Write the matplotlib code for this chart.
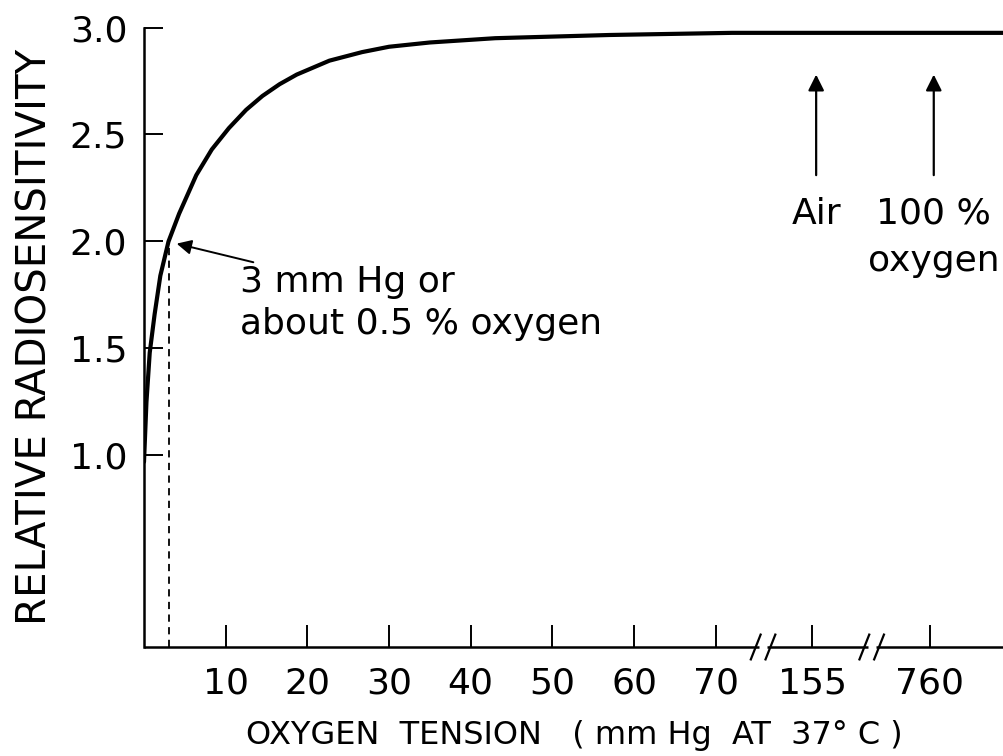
"""Oxygen effect curve: relative radiosensitivity vs oxygen tension."""

import matplotlib
matplotlib.use("Agg")
import matplotlib.pyplot as plt
import numpy as np

# Curve
tension = [0, 0.3, 0.7, 1.3, 2.0, 3.0, 4.3, 6.4, 8.3, 10.4, 12.5, 14.5, 16.6,
           18.7, 22.7, 26.7, 30, 35, 43, 57, 72, 155, 760, 1000]
sensitivity = [0.97, 1.25, 1.48, 1.66, 1.84, 2.0, 2.13, 2.31, 2.43, 2.53, 2.615,
               2.68, 2.735, 2.78, 2.845, 2.885, 2.91, 2.93, 2.95, 2.965, 2.975,
               2.975, 2.975, 2.975]

x_ticks = [10, 20, 30, 40, 50, 60, 70, 155, 760]
x_ticklabels = ["10", "20", "30", "40", "50", "60", "70", "155", "760"]
y_ticks = [1.0, 1.5, 2.0, 2.5, 3.0]
y_ticklabels = ["1.0", "1.5", "2.0", "2.5", "3.0"]

marker_tension = 3.0     # 3 mm Hg, about 0.5 % oxygen
air_tension = 155
oxygen_tension = 760
breaks = [75.8, 89.1]    # axis positions of the // marks

# broken x scale: linear up to 75, then 155 and 760 squeezed in
_real = [0, 75, 155, 760, 1000]
_pos = [0, 75, 81.8, 96.2, 110]


def to_axis(v):
    return np.interp(v, _real, _pos)


plt.rcParams["font.family"] = ["DejaVu Sans"]

fig = plt.figure(figsize=(10.04, 7.56), dpi=100)
ax = fig.add_axes([144 / 1004, 1 - 647 / 756, 1 - 144 / 1004, (647 - 27.5) / 756])

ax.plot(to_axis(tension), sensitivity, color="black", lw=3.0,
        solid_capstyle="round", solid_joinstyle="round")

# dashed drop line at 3 mm Hg
ax.plot([to_axis(marker_tension)] * 2, [0.105, 2.0], color="black", lw=1.3,
        linestyle=(0, (4, 3)))

ax.set_xlim(0, 105.3)
ax.set_ylim(0.105, 3.0)

ax.set_xticks(to_axis(x_ticks))
ax.set_xticklabels(x_ticklabels)
ax.set_yticks(y_ticks)
ax.set_yticklabels(y_ticklabels)
ax.tick_params(axis="x", direction="in", length=16, width=1.4, pad=14,
               labelsize=26)
ax.tick_params(axis="y", direction="in", length=14, width=1.4, pad=12,
               labelsize=26)

for side in ("top", "right", "bottom"):
    ax.spines[side].set_visible(False)
ax.spines["left"].set_linewidth(1.8)

# bottom axis drawn in pieces with // break marks
trans = ax.get_xaxis_transform()
edges = [0] + [v for b in breaks for v in (b - 0.5, b + 0.5)] + [105.3]
for x0, x1 in zip(edges[::2], edges[1::2]):
    ax.plot([x0, x1], [0, 0], color="black", lw=1.8, transform=trans,
            clip_on=False, solid_capstyle="butt")
for b in breaks:
    for dx in (-0.9, 0.9):
        ax.plot([b + dx - 0.6, b + dx + 0.6], [-0.02, 0.02], color="black",
                lw=1.6, transform=trans, clip_on=False)

ax.set_xlabel("OXYGEN  TENSION   ( mm Hg  AT  37° C )", fontsize=23,
              labelpad=14)
ax.set_ylabel("RELATIVE RADIOSENSITIVITY", fontsize=29, labelpad=10)

# annotations
ax.annotate("3 mm Hg or\nabout 0.5 % oxygen", xy=(4.0, 1.99),
            xytext=(11.8, 1.89), fontsize=26, ha="left", va="top",
            linespacing=1.3,
            arrowprops=dict(arrowstyle="-|>", color="black", lw=1.4,
                            mutation_scale=22, shrinkA=0, shrinkB=0))

for t, label in [(air_tension, "Air"), (oxygen_tension, "100 %\noxygen")]:
    xa = to_axis(t) + 0.5
    ax.annotate("", xy=(xa, 2.78), xytext=(xa, 2.31),
                arrowprops=dict(arrowstyle="-|>", color="black", lw=1.6,
                                mutation_scale=24, shrinkA=0, shrinkB=0))
    ax.text(xa, 2.21, label, fontsize=26, ha="center", va="top",
            linespacing=1.5)

fig.savefig("out.png", dpi=100, facecolor="white")
plt.close(fig)
